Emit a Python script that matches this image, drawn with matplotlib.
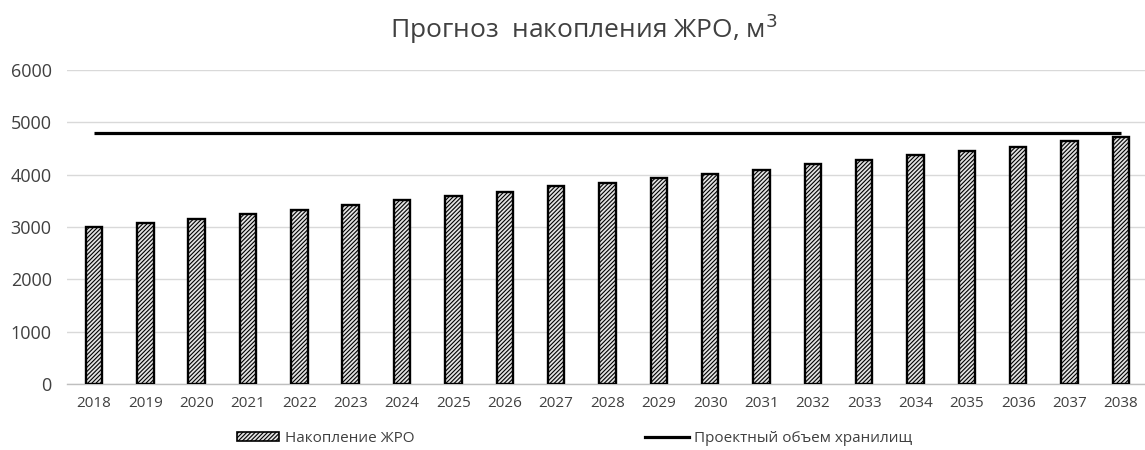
import matplotlib
matplotlib.use("Agg")
import matplotlib.pyplot as plt
from matplotlib.patches import Patch
from matplotlib.lines import Line2D

years = ["2018", "2019", "2020", "2021", "2022", "2023", "2024", "2025", "2026", "2027",
         "2028", "2029", "2030", "2031", "2032", "2033", "2034", "2035", "2036", "2037", "2038"]
accumulation = [3000, 3080, 3160, 3240, 3320, 3430, 3510, 3590, 3670, 3780,
                3850, 3930, 4020, 4100, 4200, 4290, 4370, 4450, 4540, 4640, 4720]
storage_capacity = [4800] * len(years)
y_ticks = [0, 1000, 2000, 3000, 4000, 5000, 6000]

title = "Прогноз  накопления ЖРО, м$^3$"
bar_label = "Накопление ЖРО"
line_label = "Проектный объем хранилищ"

plt.rcParams["font.family"] = ["Open Sans", "DejaVu Sans"]
plt.rcParams["hatch.linewidth"] = 0.8
plt.rcParams["hatch.color"] = "#3a3a3a"
text_color = "#404040"

fig = plt.figure(figsize=(11.45, 4.5), dpi=100)
ax = fig.add_axes([0.0585, 0.147, 0.9415, 0.697])

x = list(range(len(years)))
ax.bar(x, accumulation, width=0.32, color="#e2e2e2", edgecolor="black",
       linewidth=1.7, hatch="////////", zorder=3)
ax.plot(x, storage_capacity, color="black", linewidth=2.3, zorder=4,
        solid_capstyle="butt")

ax.set_xlim(-0.526, 20.47)
ax.set_ylim(0, 6000)
ax.set_yticks(y_ticks)
ax.set_xticks(x)
ax.set_xticklabels(years)
ax.tick_params(axis="y", length=0, pad=11, labelsize=13, labelcolor=text_color)
ax.tick_params(axis="x", length=0, pad=9, labelsize=11, labelcolor=text_color)
ax.grid(axis="y", color="#d9d9d9", linewidth=1.0, zorder=0)
for side in ("left", "right", "top"):
    ax.spines[side].set_visible(False)
ax.spines["bottom"].set_color("#bfbfbf")
ax.spines["bottom"].set_linewidth(1.0)

fig.text(0.51, 0.937, title, ha="center", va="center", fontsize=19, color=text_color)

bar_handle = Patch(facecolor="#e2e2e2", edgecolor="black", hatch="////////", linewidth=1.2)
line_handle = Line2D([], [], color="black", linewidth=2.3)
leg1 = fig.legend([bar_handle], [bar_label], loc="center left",
                  bbox_to_anchor=(0.207, 0.025), frameon=False, fontsize=11,
                  handlelength=2.75, handleheight=0.5, handletextpad=0.4,
                  labelcolor=text_color, borderaxespad=0, borderpad=0)
leg2 = fig.legend([line_handle], [line_label], loc="center left",
                  bbox_to_anchor=(0.563, 0.025), frameon=False, fontsize=11,
                  handlelength=2.9, handletextpad=0.3,
                  labelcolor=text_color, borderaxespad=0, borderpad=0)

fig.savefig("out.png", dpi=100)
